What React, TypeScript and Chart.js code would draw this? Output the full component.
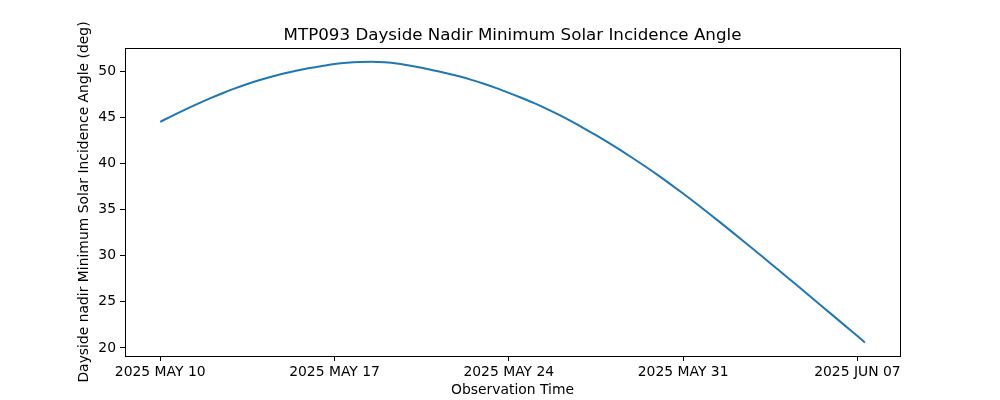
import React, { useEffect, useRef } from 'react';
import { Chart, registerables } from 'chart.js';

Chart.register(...registerables);

// Days since 2025 MAY 10 00:00
const days = [
  0, 0.5, 1, 1.5, 2, 2.5, 3, 3.5, 4, 4.5, 5, 5.5, 6, 6.5, 7, 7.5, 8, 8.5, 9, 9.5,
  10, 10.5, 11, 11.5, 12, 12.5, 13, 13.5, 14, 14.5, 15, 15.5, 16, 16.5, 17, 17.5,
  18, 18.5, 19, 19.5, 20, 20.5, 21, 21.5, 22, 22.5, 23, 23.5, 24, 24.5, 25, 25.5,
  26, 26.5, 27, 27.5, 28, 28.3,
];

const incidence = [
  44.5, 45.18, 45.83, 46.45, 47.04, 47.6, 48.12, 48.6, 49.03, 49.42, 49.77, 50.07,
  50.33, 50.55, 50.76, 50.9, 50.98, 51.0, 50.95, 50.83, 50.6, 50.35, 50.07, 49.77,
  49.43, 49.05, 48.62, 48.15, 47.64, 47.11, 46.55, 45.93, 45.27, 44.57, 43.83, 43.05,
  42.24, 41.4, 40.53, 39.63, 38.7, 37.73, 36.73, 35.7, 34.65, 33.58, 32.5, 31.41,
  30.3, 29.19, 28.07, 26.95, 25.82, 24.69, 23.56, 22.42, 21.29, 20.6,
];

const xTickDays = [0, 7, 14, 21, 28];
const xTickLabels = ['2025 MAY 10', '2025 MAY 17', '2025 MAY 24', '2025 MAY 31', '2025 JUN 07'];
const yTicks = [20, 25, 30, 35, 40, 45, 50];
const chartTitle = 'MTP093 Dayside Nadir Minimum Solar Incidence Angle';

const FONT = "'DejaVu Sans', sans-serif";

const framePlugin = {
  id: 'frame',
  afterDraw(chart: any) {
    const { ctx, chartArea } = chart;
    ctx.save();
    ctx.strokeStyle = '#000';
    ctx.lineWidth = 1;
    ctx.strokeRect(
      Math.round(chartArea.left) + 0.5,
      Math.round(chartArea.top) + 0.5,
      Math.round(chartArea.right - chartArea.left),
      Math.round(chartArea.bottom - chartArea.top)
    );
    // title centred over the plot area
    ctx.fillStyle = '#000';
    ctx.font = `16.7px ${FONT}`;
    ctx.textAlign = 'center';
    ctx.textBaseline = 'middle';
    ctx.fillText(chartTitle, (chartArea.left + chartArea.right) / 2, chartArea.top - 12.5);
    ctx.restore();
  },
};

export default function App() {
  const canvasRef = useRef<HTMLCanvasElement | null>(null);

  useEffect(() => {
    document.body.style.margin = '0';
    const canvas = canvasRef.current;
    if (!canvas) return;
    const chart = new Chart(canvas, {
      type: 'line',
      data: {
        datasets: [
          {
            data: days.map((d, i) => ({ x: d, y: incidence[i] })),
            borderColor: '#1f77b4',
            borderWidth: 2,
            pointRadius: 0,
            fill: false,
            cubicInterpolationMode: 'monotone',
          },
        ],
      },
      options: {
        animation: false,
        responsive: true,
        maintainAspectRatio: false,
        devicePixelRatio: 1,
        layout: { padding: { left: 0, right: 100, top: 48, bottom: 0 } },
        plugins: {
          legend: { display: false },
          tooltip: { enabled: false },
          title: { display: false },
        },
        scales: {
          x: {
            type: 'linear',
            min: -1.414,
            max: 29.71,
            afterBuildTicks: (scale: any) => {
              scale.ticks = xTickDays.map((v) => ({ value: v }));
            },
            afterFit: (scale: any) => {
              scale.height = 44;
            },
            ticks: {
              color: '#000',
              font: { family: FONT, size: 13.9 },
              padding: 3,
              maxRotation: 0,
              autoSkip: false,
              callback: (value: any) => {
                const idx = xTickDays.indexOf(Number(value));
                return idx >= 0 ? xTickLabels[idx] : '';
              },
            },
            grid: {
              display: true,
              drawOnChartArea: false,
              drawTicks: true,
              tickLength: 5,
              color: '#000',
            },
            border: { display: false },
            title: {
              display: true,
              text: 'Observation Time',
              color: '#000',
              font: { family: FONT, size: 13.9, lineHeight: 1.2 },
              padding: { top: 0, bottom: 1 },
            },
          },
          y: {
            type: 'linear',
            min: 19.13,
            max: 52.5,
            afterBuildTicks: (scale: any) => {
              scale.ticks = yTicks.map((v) => ({ value: v }));
            },
            afterFit: (scale: any) => {
              scale.width = 125;
            },
            ticks: {
              color: '#000',
              font: { family: FONT, size: 13.9 },
              padding: 4,
              autoSkip: false,
              callback: (value: any) => String(value),
            },
            grid: {
              display: true,
              drawOnChartArea: false,
              drawTicks: true,
              tickLength: 5,
              color: '#000',
            },
            border: { display: false },
            title: {
              display: true,
              text: 'Dayside nadir Minimum Solar Incidence Angle (deg)',
              color: '#000',
              font: { family: FONT, size: 13.9, lineHeight: 1.2 },
              padding: { top: 76, bottom: 0 },
            },
          },
        },
      } as any,
      plugins: [framePlugin],
    });
    return () => chart.destroy();
  }, []);

  return (
    <div style={{ position: 'absolute', left: 0, top: 0, width: 1000, height: 400, background: '#fff' }}>
      <canvas ref={canvasRef} />
    </div>
  );
}
